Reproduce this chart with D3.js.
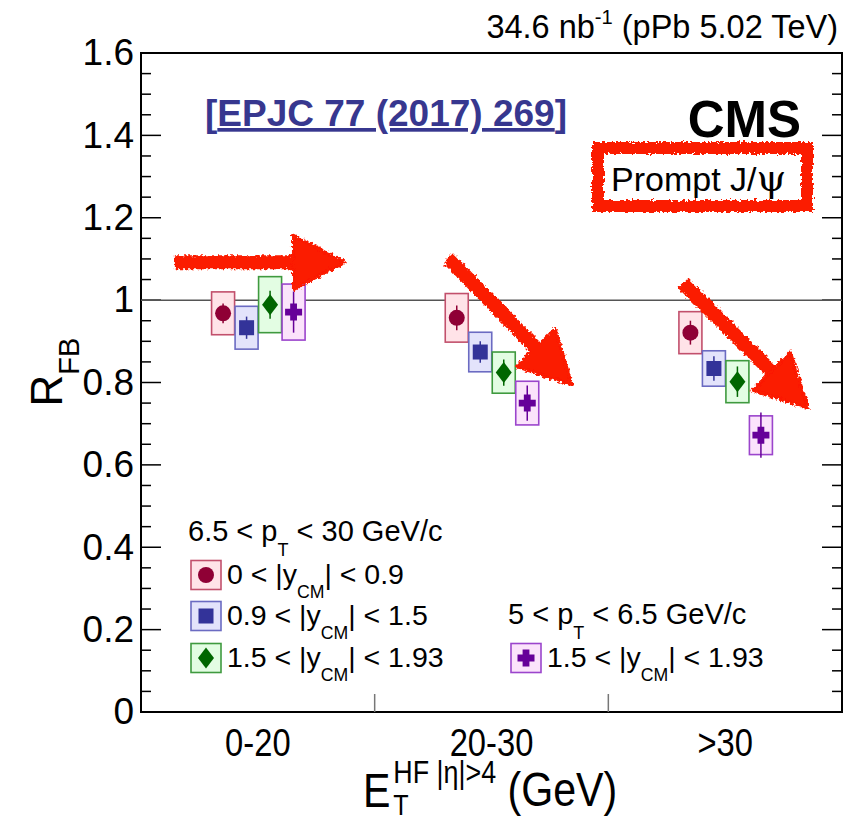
<!DOCTYPE html>
<html>
<head>
<meta charset="utf-8">
<script src="https://cdn.jsdelivr.net/npm/d3@7/dist/d3.min.js"></script>
<style>
  body { margin: 0; background: #fff; }
  svg { display: block; }
  text { font-family: "Liberation Sans", Arial, Helvetica, sans-serif; white-space: pre; }
</style>
</head>
<body>
<svg id="chart" width="867" height="817"></svg>
<script>
// E_T^HF bins
const categories = ["0-20", "20-30", ">30"];
const yTickValues = [0, 0.2, 0.4, 0.6, 0.8, 1, 1.2, 1.4, 1.6];
const yTickLabels = ["0", "0.2", "0.4", "0.6", "0.8", "1", "1.2", "1.4", "1.6"];

// R_FB, 6.5 < pT < 30 GeV/c, 0 < |y_CM| < 0.9
const rfbY0 = [0.968, 0.957, 0.921];
const statY0 = [0.024, 0.030, 0.029];
const systY0 = [0.052, 0.059, 0.051];
// R_FB, 6.5 < pT < 30 GeV/c, 0.9 < |y_CM| < 1.5
const rfbY1 = [0.933, 0.874, 0.834];
const statY1 = [0.027, 0.026, 0.030];
const systY1 = [0.052, 0.048, 0.043];
// R_FB, 6.5 < pT < 30 GeV/c, 1.5 < |y_CM| < 1.93
const rfbY2 = [0.989, 0.824, 0.802];
const statY2 = [0.034, 0.032, 0.037];
const systY2 = [0.068, 0.050, 0.051];
// R_FB, 5 < pT < 6.5 GeV/c, 1.5 < |y_CM| < 1.93
const rfbLow = [0.971, 0.750, 0.672];
const statLow = [0.050, 0.043, 0.055];
const systLow = [0.068, 0.053, 0.047];

const series = [
  { vals: rfbY0, stat: statY0, syst: systY0, shape: "circle",  color: "#8f0035", fill: "#ffe3e8", edge: "#c2506c" },
  { vals: rfbY1, stat: statY1, syst: systY1, shape: "square",  color: "#333399", fill: "#e3e3fb", edge: "#6b6bc2" },
  { vals: rfbY2, stat: statY2, syst: systY2, shape: "diamond", color: "#006600", fill: "#e3fde3", edge: "#3f9a3f" },
  { vals: rfbLow, stat: statLow, syst: systLow, shape: "cross", color: "#660099", fill: "#fbe3fb", edge: "#9b45cc" }
];

const frame = { left: 141, right: 842, top: 53, bottom: 712 };

const svg = d3.select("#chart");
const x = d3.scaleBand().domain(categories).range([frame.left, frame.right]);
const xu = d3.scaleLinear().domain([0, 3]).range([frame.left, frame.right]); // bin-unit scale for annotations
const y = d3.scaleLinear().domain([0, 1.6]).range([frame.bottom, frame.top]);

// rough-edge filter for the hand-drawn red annotations
const defs = svg.append("defs");
const rough = defs.append("filter").attr("id", "rough")
  .attr("x", "-20%").attr("y", "-20%").attr("width", "140%").attr("height", "140%");
rough.append("feTurbulence").attr("type", "fractalNoise").attr("baseFrequency", 0.35)
  .attr("numOctaves", 2).attr("seed", 3).attr("result", "noise");
rough.append("feDisplacementMap").attr("in", "SourceGraphic").attr("in2", "noise")
  .attr("scale", 6).attr("xChannelSelector", "R").attr("yChannelSelector", "G");

// helper: text with sub/superscript parts
function rich(sel, parts, size, subScale = 0.62, subShift = 0.5, supShift = 0.42) {
  let off = 0;
  parts.forEach(p => {
    const target = p.s === "sub" ? size * subShift : p.s === "sup" ? -size * supShift : 0;
    const ts = sel.append("tspan")
      .attr("dy", target - off)
      .attr("font-size", p.s ? size * subScale : size)
      .text(p.t);
    if (p.f) ts.attr("font-family", p.f).attr("font-size", p.fs || size);
    off = target;
  });
  return sel;
}

// frame
svg.append("rect")
  .attr("x", frame.left).attr("y", frame.top)
  .attr("width", frame.right - frame.left).attr("height", frame.bottom - frame.top)
  .attr("fill", "none").attr("stroke", "#000").attr("stroke-width", 2);

// y axis ticks (left and right) with minor ticks
const minorTicks = d3.range(0, 1.6001, 0.05);
minorTicks.forEach(v => {
  const major = Math.abs(v * 5 - Math.round(v * 5)) < 1e-6;
  const len = major ? 20 : 10;
  svg.append("line").attr("x1", frame.left).attr("x2", frame.left + len)
    .attr("y1", y(v)).attr("y2", y(v)).attr("stroke", "#000").attr("stroke-width", 1.5);
  svg.append("line").attr("x1", frame.right).attr("x2", frame.right - len)
    .attr("y1", y(v)).attr("y2", y(v)).attr("stroke", "#000").attr("stroke-width", 1.5);
});

const yAxis = d3.axisLeft(y).tickValues(yTickValues)
  .tickFormat((d, i) => yTickLabels[i]).tickSize(0).tickPadding(7);
const gy = svg.append("g").attr("transform", `translate(${frame.left},0)`).call(yAxis);
gy.select(".domain").remove();
gy.selectAll("text").attr("font-size", 37).attr("fill", "#000")
  .attr("font-family", "'Liberation Sans', Arial, Helvetica, sans-serif");

// x axis: bin boundary ticks and category labels
categories.slice(1).forEach(c => {
  svg.append("line").attr("x1", x(c)).attr("x2", x(c))
    .attr("y1", frame.bottom).attr("y2", frame.bottom - 18)
    .attr("stroke", "#777").attr("stroke-width", 1.5);
});
const narrow = 0.84;
categories.forEach(c => {
  const cx = x(c) + x.bandwidth() / 2;
  svg.append("text")
    .attr("transform", `translate(${cx},756) scale(${narrow},1)`)
    .attr("text-anchor", "middle").attr("font-size", 39).text(c);
});

// reference line at R_FB = 1
svg.append("line").attr("x1", frame.left).attr("x2", frame.right)
  .attr("y1", y(1)).attr("y2", y(1)).attr("stroke", "#555").attr("stroke-width", 1.5);

// markers
function drawMarker(g, shape, cx, cy, color, scale = 1) {
  if (shape === "circle") {
    g.append("circle").attr("cx", cx).attr("cy", cy).attr("r", 8 * scale).attr("fill", color);
  } else if (shape === "square") {
    const s = 15 * scale;
    g.append("rect").attr("x", cx - s / 2).attr("y", cy - s / 2).attr("width", s).attr("height", s).attr("fill", color);
  } else if (shape === "diamond") {
    const w = 8 * scale, h = 10.5 * scale;
    g.append("path").attr("d", `M${cx},${cy - h}L${cx + w},${cy}L${cx},${cy + h}L${cx - w},${cy}Z`).attr("fill", color);
  } else if (shape === "cross") {
    const a = 8.5 * scale, t = 3.4 * scale;
    g.append("path").attr("d",
      `M${cx - t},${cy - a}H${cx + t}V${cy - t}H${cx + a}V${cy + t}H${cx + t}V${cy + a}H${cx - t}V${cy + t}H${cx - a}V${cy - t}H${cx - t}Z`)
      .attr("fill", color);
  }
}

const pitch = 23.5, boxW = 23;
series.forEach((s, i) => {
  const g = svg.append("g");
  categories.forEach((c, j) => {
    const cx = x(c) + x.bandwidth() / 2 + (i - 1.5) * pitch + 0.5;
    const v = s.vals[j];
    g.append("rect")
      .attr("x", cx - boxW / 2).attr("y", y(v + s.syst[j]))
      .attr("width", boxW).attr("height", y(v - s.syst[j]) - y(v + s.syst[j]))
      .attr("fill", s.fill).attr("stroke", s.edge).attr("stroke-width", 1.6);
    g.append("line").attr("x1", cx).attr("x2", cx)
      .attr("y1", y(v + s.stat[j])).attr("y2", y(v - s.stat[j]))
      .attr("stroke", s.color).attr("stroke-width", 1.5);
    drawMarker(g, s.shape, cx, y(v), s.color);
  });
});

// legend
const legend = svg.append("g");
rich(legend.append("text").attr("x", 188).attr("y", 541),
  [{ t: "6.5 < p" }, { t: "T", s: "sub" }, { t: " < 30 GeV/c" }], 29);
rich(legend.append("text").attr("x", 508).attr("y", 624),
  [{ t: "5 < p" }, { t: "T", s: "sub" }, { t: " < 6.5 GeV/c" }], 29);

const legendRows = [
  { s: series[0], x: 191, y: 575, parts: [{ t: "0 < |y" }, { t: "CM", s: "sub" }, { t: "| < 0.9" }] },
  { s: series[1], x: 191, y: 616, parts: [{ t: "0.9 < |y" }, { t: "CM", s: "sub" }, { t: "| < 1.5" }] },
  { s: series[2], x: 191, y: 658, parts: [{ t: "1.5 < |y" }, { t: "CM", s: "sub" }, { t: "| < 1.93" }] },
  { s: series[3], x: 511, y: 658, parts: [{ t: "1.5 < |y" }, { t: "CM", s: "sub" }, { t: "| < 1.93" }] }
];
legendRows.forEach(r => {
  legend.append("rect").attr("x", r.x).attr("y", r.y - 14.5).attr("width", 30).attr("height", 29)
    .attr("fill", r.s.fill).attr("stroke", r.s.edge).attr("stroke-width", 1.6);
  drawMarker(legend, r.s.shape, r.x + 15, r.y, r.s.color);
  rich(legend.append("text").attr("x", r.x + 36).attr("y", r.y + 9), r.parts, 28.5);
});

// axis titles
const yt = svg.append("text").attr("transform", "translate(62,372) rotate(-90)").attr("text-anchor", "middle");
rich(yt, [{ t: "R" }, { t: "FB", s: "sub" }], 44, 0.66, 0.38);

const xt = svg.append("g").attr("transform", `translate(363,807) scale(${narrow},1)`);
xt.append("text").attr("x", 0).attr("y", 0).attr("font-size", 49).text("E");
xt.append("text").attr("x", 36).attr("y", 8).attr("font-size", 30).text("T");
xt.append("text").attr("x", 36).attr("y", -24).attr("font-size", 32).text("HF |η|>4");
xt.append("text").attr("x", 172).attr("y", -1).attr("font-size", 49).text("(GeV)");

// header texts
rich(svg.append("text").attr("x", 838).attr("y", 38).attr("text-anchor", "end"),
  [{ t: "34.6 nb" }, { t: "-1", s: "sup" }, { t: " (pPb 5.02 TeV)" }], 32.5, 0.62, 0.55, 0.42);

const ref = svg.append("text").attr("x", 205).attr("y", 126).attr("font-size", 37)
  .attr("font-weight", "bold").attr("fill", "#37378f");
ref.append("tspan").text("[");
ref.append("tspan").style("text-decoration", "underline").text("EPJC 77 (2017) 269");
ref.append("tspan").text("]");

svg.append("text").attr("x", 801).attr("y", 137).attr("text-anchor", "end")
  .attr("font-size", 51).attr("font-weight", "bold").text("CMS");
rich(svg.append("text").attr("x", 611).attr("y", 191),
  [{ t: "Prompt J/" }, { t: "ψ", f: "'DejaVu Serif', serif", fs: 38 }], 34);

// hand-drawn red highlights
const red = "#fb1a00";
const marks = svg.append("g").attr("filter", "url(#rough)");
marks.append("rect").attr("x", 598).attr("y", 148).attr("width", 209).attr("height", 58)
  .attr("fill", "none").attr("stroke", red).attr("stroke-width", 12);

// arrows in (bin units, R_FB) coordinates
const arrows = [
  { from: [0.145, 1.092], to: [0.875, 1.092] },
  { from: [1.314, 1.102], to: [1.845, 0.794] },
  { from: [2.320, 1.041], to: [2.855, 0.738] }
];
arrows.forEach(a => {
  const x0 = xu(a.from[0]), y0 = y(a.from[1]);
  const x1 = xu(a.to[0]), y1 = y(a.to[1]);
  const dx = x1 - x0, dy = y1 - y0, L = Math.hypot(dx, dy);
  const ux = dx / L, uy = dy / L, nx = -uy, ny = ux;
  const headL = 52, headW = 27;
  const bx = x1 - ux * headL, by = y1 - uy * headL;
  marks.append("line").attr("x1", x0).attr("y1", y0).attr("x2", bx + ux * 4).attr("y2", by + uy * 4)
    .attr("stroke", red).attr("stroke-width", 14);
  marks.append("path")
    .attr("d", `M${x1},${y1}L${bx + nx * headW},${by + ny * headW}L${bx - nx * headW},${by - ny * headW}Z`)
    .attr("fill", red).attr("stroke", red).attr("stroke-width", 3).attr("stroke-linejoin", "round");
});
</script>
</body>
</html>
